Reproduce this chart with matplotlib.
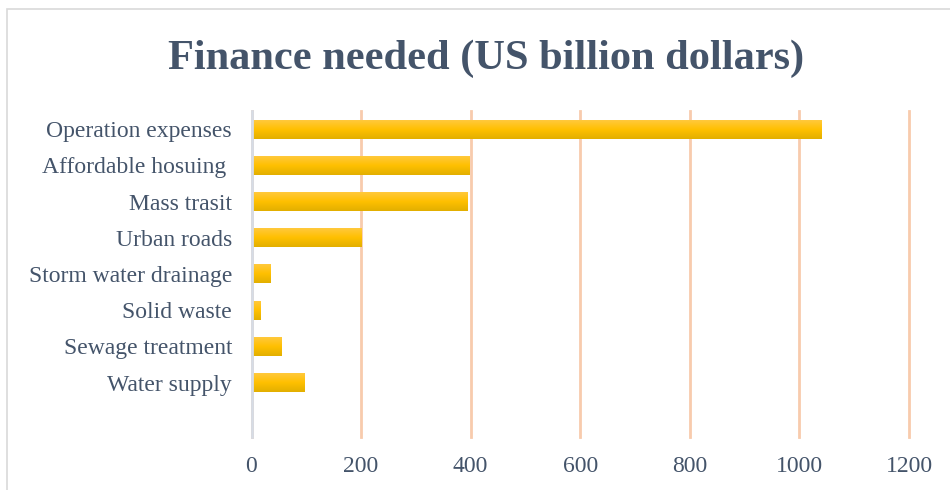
import numpy as np
import matplotlib
matplotlib.use("Agg")
import matplotlib.pyplot as plt
from matplotlib.patches import Rectangle
from matplotlib.colors import LinearSegmentedColormap

# data (top to bottom), last row is an empty slot like in the original chart
categories = ["Operation expenses", "Affordable hosuing ", "Mass trasit", "Urban roads",
              "Storm water drainage", "Solid waste", "Sewage treatment", "Water supply", ""]
values = [1040, 397, 393, 200, 34, 16, 54, 96, 0]
xticks = [0, 200, 400, 600, 800, 1000, 1200]

text_col = "#44546A"
grid_col = "#F8CBAD"

plt.rcParams["font.family"] = ["Liberation Serif", "DejaVu Serif"]

fig = plt.figure(figsize=(9.5, 4.9), dpi=100)
ax = fig.add_axes([251.5 / 950, 1 - 437 / 490, (909 - 251.5) / 950, 326 / 490])

y = np.arange(len(categories))
bars = ax.barh(y, values, height=0.52, color="#FFC000", zorder=3)

# vertical gradient on each bar (lighter top, darker bottom)
grad = LinearSegmentedColormap.from_list("gold", ["#FFC93C", "#FFC000", "#E2AF00"])
g = np.linspace(0, 1, 64).reshape(-1, 1)
for b in bars:
    w = b.get_width()
    if w <= 0:
        continue
    y0 = b.get_y()
    h = b.get_height()
    ax.imshow(g, cmap=grad, aspect="auto", origin="upper",
              extent=[0, w, y0 + h, y0], zorder=4)

ax.set_xlim(0, 1200)
ax.set_ylim(len(categories) - 0.5, -0.5)
ax.set_xticks(xticks)
ax.set_yticks(y)
ax.set_yticklabels(categories)
ax.grid(axis="x", color=grid_col, linewidth=2, zorder=1)
for gl in ax.get_xgridlines():
    gl.set_clip_on(False)
ax.set_axisbelow(True)

for s in ["top", "right", "bottom"]:
    ax.spines[s].set_visible(False)
ax.spines["left"].set_color("#D6DCE5")
ax.spines["left"].set_linewidth(2)
ax.spines["left"].set_zorder(5)

ax.tick_params(axis="both", length=0, labelsize=17, colors=text_col)
ax.tick_params(axis="y", pad=14)
ax.tick_params(axis="x", pad=14)

fig.text(486 / 950, 1 - 69 / 490, "Finance needed (US billion dollars)",
         ha="center", va="baseline", fontsize=30.5, fontweight="bold", color=text_col)

# chart area border
fig.patches.append(Rectangle((7 / 950, -0.1), 1.2, 1 - 9 / 490 + 0.1,
                             transform=fig.transFigure, fill=False,
                             edgecolor="#D9D9D9", linewidth=1.2))

fig.savefig("out.png", dpi=100)
